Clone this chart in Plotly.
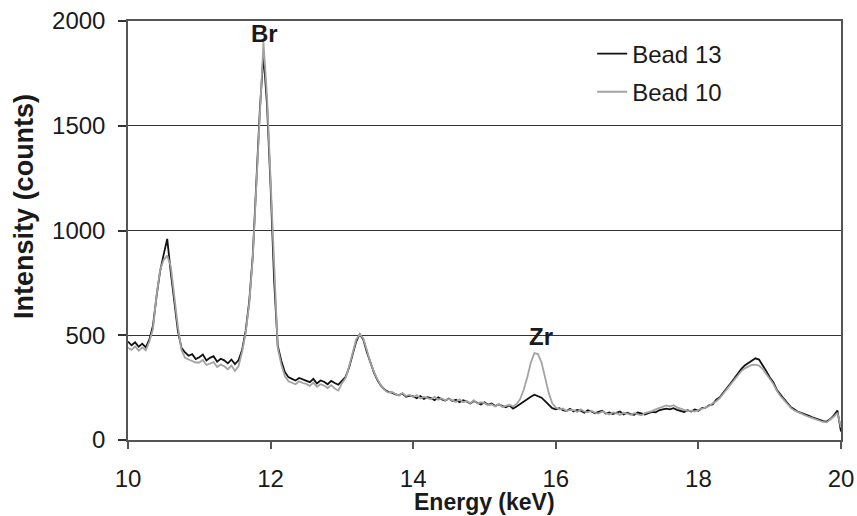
import plotly.graph_objects as go

# Energy axis (keV)
energy = [
    10.00, 10.05, 10.10, 10.15, 10.20, 10.25, 10.30, 10.35, 10.40, 10.45,
    10.50, 10.55, 10.60, 10.65, 10.70, 10.75, 10.80, 10.85, 10.90, 10.95,
    11.00, 11.05, 11.10, 11.15, 11.20, 11.25, 11.30, 11.35, 11.40, 11.45,
    11.50, 11.55, 11.60, 11.65, 11.70, 11.75, 11.80, 11.85, 11.90, 11.95,
    12.00, 12.05, 12.10, 12.15, 12.20, 12.25, 12.30, 12.35, 12.40, 12.45,
    12.50, 12.55, 12.60, 12.65, 12.70, 12.75, 12.80, 12.85, 12.90, 12.95,
    13.00, 13.05, 13.10, 13.15, 13.20, 13.25, 13.30, 13.35, 13.40, 13.45,
    13.50, 13.55, 13.60, 13.65, 13.70, 13.75, 13.80, 13.85, 13.90, 13.95,
    14.00, 14.05, 14.10, 14.15, 14.20, 14.25, 14.30, 14.35, 14.40, 14.45,
    14.50, 14.55, 14.60, 14.65, 14.70, 14.75, 14.80, 14.85, 14.90, 14.95,
    15.00, 15.05, 15.10, 15.15, 15.20, 15.25, 15.30, 15.35, 15.40, 15.45,
    15.50, 15.55, 15.60, 15.65, 15.70, 15.75, 15.80, 15.85, 15.90, 15.95,
    16.00, 16.05, 16.10, 16.15, 16.20, 16.25, 16.30, 16.35, 16.40, 16.45,
    16.50, 16.55, 16.60, 16.65, 16.70, 16.75, 16.80, 16.85, 16.90, 16.95,
    17.00, 17.05, 17.10, 17.15, 17.20, 17.25, 17.30, 17.35, 17.40, 17.45,
    17.50, 17.55, 17.60, 17.65, 17.70, 17.75, 17.80, 17.85, 17.90, 17.95,
    18.00, 18.05, 18.10, 18.15, 18.20, 18.25, 18.30, 18.35, 18.40, 18.45,
    18.50, 18.55, 18.60, 18.65, 18.70, 18.75, 18.80, 18.85, 18.90, 18.95,
    19.00, 19.05, 19.10, 19.15, 19.20, 19.25, 19.30, 19.35, 19.40, 19.45,
    19.50, 19.55, 19.60, 19.65, 19.70, 19.75, 19.80, 19.85, 19.90, 19.95,
    20.00,
]

# Intensity (counts), Bead 13
bead13 = [
    470, 452, 466, 445, 460, 442, 480, 545, 685, 805,
    885, 960, 800, 660, 520, 440, 418, 402, 410, 386,
    395, 408, 380, 392, 400, 374, 388, 380, 366, 384,
    362, 380, 430, 520, 660, 880, 1230, 1580, 1840, 1600,
    1210, 760, 450, 378, 325, 300, 292, 284, 296, 290,
    282, 276, 292, 270, 284, 278, 266, 282, 272, 264,
    282, 300, 345, 410, 470, 505, 480, 420, 365, 322,
    285, 258, 240, 230, 226, 218, 214, 222, 206, 212,
    208, 199, 210, 196, 204, 200, 190, 204, 194, 188,
    198, 186, 192, 180, 190, 184, 174, 186, 178, 170,
    180, 168, 174, 162, 170, 164, 156, 166, 150, 160,
    172, 185, 196, 206, 216, 210, 202, 186, 168, 152,
    146, 152, 142, 138, 149, 136, 143, 140, 130, 142,
    136, 128, 134, 140, 126, 132, 124, 130, 136, 122,
    130, 124, 120, 131, 126, 122, 128, 134, 132, 142,
    146, 150, 146, 152, 144, 140, 134, 142, 136, 146,
    140, 152, 154, 166, 170, 192, 204, 226, 246, 270,
    292, 318, 338, 356, 368, 382, 390, 384, 360, 330,
    300, 276, 240, 216, 196, 176, 156, 146, 134, 128,
    120, 115, 108, 102, 96, 90, 88, 100, 118, 140,
    40,
]

# Intensity (counts), Bead 10
bead10 = [
    440, 430, 447, 426, 442, 428, 470, 530, 690, 810,
    860, 880, 830, 690, 540, 430, 392, 384, 376, 370,
    370, 382, 358, 366, 372, 348, 360, 352, 338, 356,
    330, 352, 420, 510, 650, 870, 1220, 1600, 1900, 1640,
    1230, 770, 440, 360, 305, 280, 272, 266, 280, 272,
    268, 258, 274, 254, 266, 260, 248, 262, 246, 236,
    270, 295, 350, 420, 480, 505, 485, 430, 370, 325,
    288, 260, 238, 226, 230, 220, 212, 224, 210, 216,
    204, 214, 198, 206, 200, 194, 206, 192, 198, 190,
    196, 188, 182, 194, 180, 186, 176, 190, 174, 180,
    176, 166, 170, 160, 172, 158, 164, 168, 160, 172,
    195, 240, 300, 370, 415, 410, 370, 300, 225, 175,
    155, 146, 150, 138, 144, 142, 134, 146, 136, 132,
    140, 130, 126, 136, 130, 122, 132, 128, 120, 130,
    126, 120, 128, 124, 118, 128, 132, 138, 146, 152,
    158, 165, 160, 166, 156, 150, 142, 138, 140, 136,
    144, 148, 156, 162, 175, 185, 200, 222, 240, 262,
    285, 308, 328, 342, 352, 358, 360, 355, 340, 318,
    292, 268, 235, 210, 190, 170, 152, 140, 132, 124,
    116, 110, 104, 98, 92, 86, 84, 96, 112, 130,
    60,
]

assert len(energy) == len(bead13) == len(bead10)

series_names = ["Bead 13", "Bead 10"]
y_ticks = [0, 500, 1000, 1500, 2000]
x_ticks = [10, 12, 14, 16, 18, 20]

FONT = "Liberation Sans, Arial, sans-serif"
TXT = "#1a1a1a"

fig = go.Figure()
fig.add_trace(go.Scatter(
    x=energy, y=bead13, mode="lines", name=series_names[0],
    line=dict(color="#111111", width=1.8), legendgroup="a",
))
fig.add_trace(go.Scatter(
    x=energy, y=bead10, mode="lines", name=series_names[1],
    line=dict(color="#a3a3a3", width=1.8), legendgroup="b",
))

fig.update_layout(
    width=857, height=516,
    margin=dict(l=128, r=16, t=21, b=76, autoexpand=False),
    paper_bgcolor="white", plot_bgcolor="white",
    font=dict(family=FONT, size=24, color=TXT),
    showlegend=True,
    legend=dict(
        x=0.651, y=0.975, xanchor="left", yanchor="top",
        bgcolor="rgba(0,0,0,0)", borderwidth=0,
        font=dict(family=FONT, size=24, color=TXT),
        tracegroupgap=4, itemwidth=30,
    ),
    xaxis=dict(
        range=[10, 20], tickvals=x_ticks, ticktext=[str(v) for v in x_ticks],
        showgrid=False, zeroline=False, automargin=False,
        showline=True, linecolor="#555555", linewidth=1.5, mirror=True,
        ticks="outside", ticklen=7, tickwidth=1.5, tickcolor="#555555",
        ticklabelstandoff=9,
        tickfont=dict(family=FONT, size=24, color=TXT),
    ),
    yaxis=dict(
        range=[0, 2000], tickvals=y_ticks, ticktext=[str(v) for v in y_ticks],
        showgrid=True, gridcolor="#333333", gridwidth=1.2, zeroline=False, automargin=False,
        showline=True, linecolor="#555555", linewidth=1.5, mirror=True,
        ticks="outside", ticklen=8, tickwidth=1.5, tickcolor="#333333",
        ticklabelstandoff=8,
        tickfont=dict(family=FONT, size=24, color=TXT),
    ),
    annotations=[
        dict(x=11.91, y=1938, xref="x", yref="y", text="<b>Br</b>",
             showarrow=False, font=dict(family=FONT, size=24, color=TXT)),
        dict(x=15.79, y=496, xref="x", yref="y", text="<b>Zr</b>",
             showarrow=False, font=dict(family=FONT, size=24, color=TXT)),
        dict(x=0.5, y=-0.1814, xref="paper", yref="paper", text="<b>Energy (keV)</b>",
             showarrow=False, xanchor="center", yanchor="bottom", borderpad=0,
             font=dict(family=FONT, size=23, color=TXT)),
        dict(x=-0.146, y=0.5585, xref="paper", yref="paper", text="<b>Intensity (counts)</b>",
             showarrow=False, xanchor="center", yanchor="middle", textangle=-90,
             font=dict(family=FONT, size=27, color=TXT)),
    ],
)

fig.write_html(
    "out.html",
    config={"displayModeBar": False},
    post_script="document.body.style.margin='0';document.body.style.overflow='hidden';",
)
